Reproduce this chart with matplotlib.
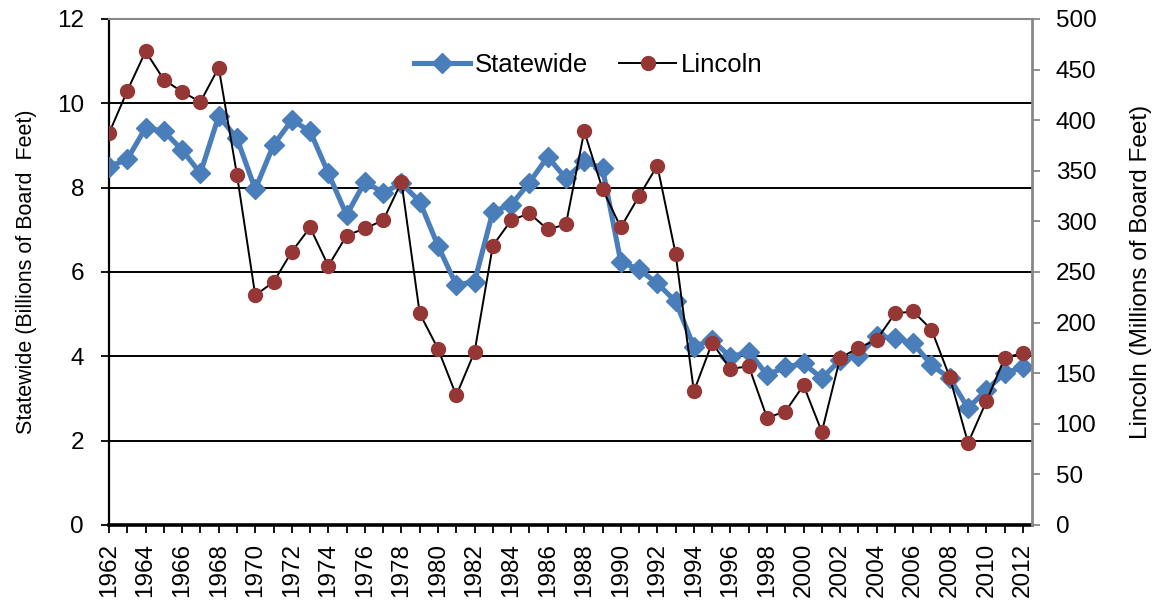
import matplotlib.pyplot as plt

plt.rcParams['font.family'] = ['Liberation Sans', 'DejaVu Sans']

years = list(range(1962, 2013))

# billions of board feet
statewide = [8.50, 8.67, 9.42, 9.34, 8.89, 8.34, 9.70, 9.17, 7.96, 9.01,
             9.60, 9.34, 8.34, 7.35, 8.14, 7.88, 8.10, 7.67, 6.62, 5.69,
             5.77, 7.43, 7.59, 8.12, 8.73, 8.22, 8.62, 8.46, 6.24, 6.06,
             5.73, 5.30, 4.23, 4.39, 3.98, 4.11, 3.56, 3.74, 3.83, 3.48,
             3.91, 4.01, 4.47, 4.43, 4.31, 3.79, 3.48, 2.77, 3.20, 3.60,
             3.74]

# millions of board feet
lincoln = [387, 429, 468, 440, 428, 418, 452, 346, 227, 240,
           270, 294, 256, 286, 293, 301, 339, 209, 174, 128,
           171, 276, 301, 308, 292, 297, 389, 332, 294, 325,
           355, 268, 132, 180, 154, 157, 106, 112, 138, 92,
           165, 175, 183, 209, 211, 193, 146, 81, 122, 165,
           170]

blue = '#4a7ebb'
red = '#953735'
tick_fs = 17.5

fig = plt.figure(figsize=(11.61, 6.02), dpi=100)
ax = fig.add_axes([0.0939, 0.128, 0.795, 0.8405])

ax.plot(years, statewide, color=blue, lw=3.7, marker='D', ms=10.5,
        label='Statewide', zorder=3)
ax.set_ylim(0, 12)
ax.set_yticks(range(0, 13, 2))
ax.set_xlim(1962, 2012.5)
ax.set_xticks(years)
ax.set_xticklabels([str(y) if (y - 1962) % 2 == 0 else '' for y in years],
                   rotation=90)
ax.grid(axis='y', color='black', lw=1.4)
ax.set_axisbelow(True)
ax.set_ylabel('Statewide (Billions of Board  Feet)', fontsize=15.5,
              labelpad=14)
ax.tick_params(axis='both', labelsize=tick_fs, direction='out', length=6,
               width=1.3)
ax.tick_params(axis='y', pad=12)
ax.tick_params(axis='x', pad=7)
ax.spines['left'].set_linewidth(1.6)
ax.spines['bottom'].set_linewidth(2.6)
ax.spines['top'].set_color('#888888')
ax.spines['top'].set_linewidth(1.5)
ax.spines['right'].set_visible(False)

ax2 = ax.twinx()
ax2.plot(years, lincoln, color='black', lw=1.4, marker='o', ms=10,
         markerfacecolor=red, markeredgecolor=red, label='Lincoln', zorder=4)
ax2.set_ylim(0, 500)
ax2.set_yticks(range(0, 501, 50))
ax2.set_ylabel('Lincoln (Millions of Board Feet)', fontsize=17.5,
               labelpad=24)
ax2.tick_params(axis='y', labelsize=tick_fs, direction='out', length=6,
                width=1.3, color='#888888', pad=11)
ax2.spines['right'].set_color('#888888')
ax2.spines['right'].set_linewidth(2)
for s in ['left', 'bottom', 'top']:
    ax2.spines[s].set_visible(False)

h1, l1 = ax.get_legend_handles_labels()
h2, l2 = ax2.get_legend_handles_labels()
ax2.legend(h1 + h2, l1 + l2, loc='center', bbox_to_anchor=(0.519, 0.909),
           ncol=2, frameon=False, fontsize=18.5, handlelength=2.2,
           columnspacing=1.2, handletextpad=0.2)

fig.savefig('out.png', dpi=100)
